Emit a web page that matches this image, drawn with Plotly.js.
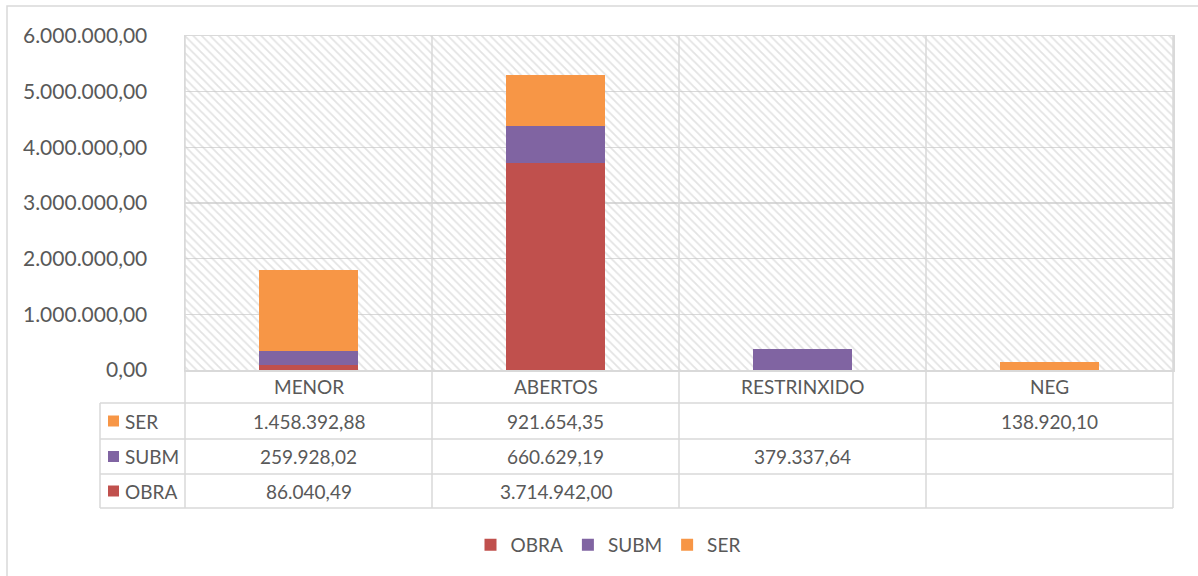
<!DOCTYPE html>
<html>
<head>
<meta charset="utf-8">
<script src="https://cdn.plot.ly/plotly-3.0.1.min.js"></script>
<style>html,body{margin:0;padding:0;background:#fff;}#chart{width:1198px;height:576px;}</style>
</head>
<body>
<div id="chart"></div>
<script>
// ---- data ----
var categories = ["MENOR", "ABERTOS", "RESTRINXIDO", "NEG"];
var seriesNames = ["OBRA", "SUBM", "SER"];
var obra = [86040.49, 3714942.00, null, null];
var subm = [259928.02, 660629.19, 379337.64, null];
var ser  = [1458392.88, 921654.35, null, 138920.10];
var yTicks = [0, 1000000, 2000000, 3000000, 4000000, 5000000, 6000000];
var colors = {OBRA: "#c0504d", SUBM: "#8064a2", SER: "#f79646"};

// ---- layout helpers (pixel -> paper) ----
var W = 1198, H = 576;
var plotL = 185, plotR = 1173, plotT = 36, plotB = 370;
function px(x) { return (x - plotL) / (plotR - plotL); }
function py(y) { return (plotB - y) / (plotB - plotT); }
var grey = "#d9d9d9", txt = "#595959";
var font = "Lato, 'Open Sans', sans-serif";

var xs = categories.map(function (c, i) { return i; });
var seriesData = {OBRA: obra, SUBM: subm, SER: ser};
var xRange = [-0.5, categories.length - 0.5];
var yRange = [0, yTicks[yTicks.length - 1]];

var traces = [];
// hatched background of the plot area (main subplot, drawn below the bars)
traces.push({
  x: [xRange[0], xRange[1], xRange[1], xRange[0], xRange[0]],
  y: [yRange[0], yRange[0], yRange[1], yRange[1], yRange[0]],
  xaxis: "x", yaxis: "y",
  type: "scatter", mode: "none", fill: "toself",
  fillcolor: "rgba(0,0,0,0)",
  fillpattern: {shape: "\\", fgcolor: "#c8c8c8", bgcolor: "rgba(0,0,0,0)", size: 6, solidity: 0.3, fillmode: "overlay"},
  showlegend: false, hoverinfo: "skip"
});
seriesNames.forEach(function (n) {
  traces.push({
    type: "bar", name: n, x: xs, y: seriesData[n], width: 0.4,
    xaxis: "x2", yaxis: "y2",
    marker: {color: colors[n], line: {width: 0}},
    hoverinfo: "y+name"
  });
});

var shapes = [], annotations = [];
// outer chart border
shapes.push({type: "rect", xref: "paper", yref: "paper", x0: px(7), x1: px(W + 5), y0: py(6), y1: py(H + 5),
  line: {color: grey, width: 1.5}, fillcolor: "rgba(0,0,0,0)", layer: "below"});

// table geometry
var tableLeft = 100;
var rowLines = [403, 439, 474, 508];
var colW = (plotR - plotL) / categories.length;
for (var i = 0; i <= categories.length; i++) {
  var xx = plotL + i * colW;
  shapes.push({type: "line", xref: "paper", yref: "paper", x0: px(xx), x1: px(xx), y0: py(plotT), y1: py(rowLines[rowLines.length - 1]),
    line: {color: grey, width: 1.5}, layer: "above"});
}
shapes.push({type: "line", xref: "paper", yref: "paper", x0: px(tableLeft), x1: px(tableLeft), y0: py(rowLines[0]), y1: py(rowLines[rowLines.length - 1]),
  line: {color: grey, width: 1.5}});
rowLines.forEach(function (ry) {
  shapes.push({type: "line", xref: "paper", yref: "paper", x0: px(tableLeft), x1: px(plotR), y0: py(ry), y1: py(ry),
    line: {color: grey, width: 1.5}});
});
categories.forEach(function (c, i) {
  annotations.push({xref: "paper", yref: "paper", x: px(plotL + (i + 0.5) * colW), y: py((plotB + rowLines[0]) / 2),
    text: c, showarrow: false, xanchor: "center", yanchor: "middle", font: {family: font, size: 19, color: txt}});
});
function fmt(v) {
  if (v === null || v === undefined) return "";
  var p = v.toFixed(2).split(".");
  return p[0].replace(/\B(?=(\d{3})+(?!\d))/g, ".") + "," + p[1];
}
var tableOrder = seriesNames.slice().reverse();
tableOrder.forEach(function (n, r) {
  var cy = (rowLines[r] + rowLines[r + 1]) / 2;
  shapes.push({type: "rect", xref: "paper", yref: "paper", x0: px(108), x1: px(119), y0: py(cy - 5.5), y1: py(cy + 5.5),
    fillcolor: colors[n], line: {width: 0}});
  annotations.push({xref: "paper", yref: "paper", x: px(123), y: py(cy), text: n, showarrow: false,
    xanchor: "left", yanchor: "middle", font: {family: font, size: 19, color: txt}});
  seriesData[n].forEach(function (v, i) {
    annotations.push({xref: "paper", yref: "paper", x: px(plotL + (i + 0.5) * colW), y: py(cy), text: fmt(v), showarrow: false,
      xanchor: "center", yanchor: "middle", font: {family: font, size: 19, color: txt}});
  });
});

var layout = {
  width: W, height: H,
  margin: {l: plotL, r: W - plotR, t: plotT, b: H - plotB, pad: 0, autoexpand: false},
  paper_bgcolor: "#ffffff", plot_bgcolor: "#ffffff",
  barmode: "stack",
  separators: ",.",
  showlegend: true,
  legend: {orientation: "h", x: px(608), xanchor: "center", y: py(545), yanchor: "middle",
    font: {family: font, size: 19, color: txt}, traceorder: "normal"},
  xaxis: {range: xRange, showticklabels: false, showgrid: false, zeroline: false,
    showline: true, linecolor: grey, linewidth: 1.5, mirror: true, fixedrange: true, automargin: false},
  yaxis: {range: yRange, tickvals: yTicks, tickformat: ",.2f", showgrid: true, gridcolor: grey, gridwidth: 1.5,
    zeroline: false, showline: true, linecolor: grey, linewidth: 1.5, mirror: true, ticks: "", ticklabelstandoff: 32,
    tickfont: {family: font, size: 21, color: txt}, fixedrange: true, automargin: false},
  xaxis2: {overlaying: "x", range: xRange, visible: false, fixedrange: true},
  yaxis2: {overlaying: "y", range: yRange, visible: false, fixedrange: true},
  shapes: shapes,
  annotations: annotations
};

Plotly.newPlot("chart", traces, layout, {displayModeBar: false, staticPlot: true});
</script>
</body>
</html>
